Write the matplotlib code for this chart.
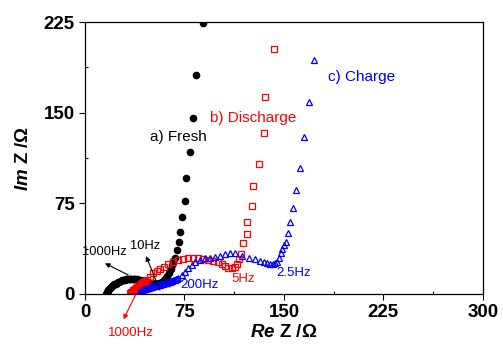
import numpy as np
import matplotlib
matplotlib.use("Agg")
import matplotlib.pyplot as plt
from matplotlib.ticker import MultipleLocator

# ──────────────────────────────────────────────
# DATA  (Re Z, Im Z)
# ──────────────────────────────────────────────
fresh_re = [16, 16.5, 17, 17.5, 18, 18.7, 19.5, 20.2, 21, 22, 23, 24, 25, 26,
            27, 28, 29, 30, 31, 32, 33, 34, 35, 36, 37, 38, 39, 40, 41, 42,
            43, 44, 45, 46, 47, 48, 49, 50, 51, 52, 53, 54, 55, 56, 57, 58,
            59, 60, 61, 62, 63, 64.5, 65.5, 66.6, 67.8, 69.1, 70.8, 71.6,
            72.9, 75.4, 76.1, 79.1, 81.2, 83.6, 88.9]
fresh_im = [0, 1.3, 2.5, 3.4, 4.2, 5, 5.8, 6.5, 7.2, 7.9, 8.6, 9.2, 9.8, 10.3,
            10.8, 11.2, 11.5, 11.8, 12, 12.2, 12.3, 12.4, 12.4, 12.4, 12.3,
            12.2, 12, 11.8, 11.5, 11.3, 11, 10.7, 10.4, 10.1, 9.8, 9.5, 9.2,
            8.9, 8.7, 8.5, 8.4, 8.4, 8.5, 8.9, 9.5, 10.2, 11, 12.2, 13.5, 15.2,
            17, 20.5, 24, 27, 29.5, 36.4, 43.3, 51.5, 63.4, 77.2, 95.7, 117.7,
            145.8, 181.1, 224]

discharge_re = [34, 34.5, 35, 35.5, 36, 36.5, 37, 37.5, 38, 38.5, 39, 39.5,
                40, 40.5, 41, 41.5, 42, 42.5, 43, 43.5, 44, 44.5, 45, 46.5,
                49, 51.5, 54, 56.5, 59.8, 62.8, 66.6, 70.3, 74.1, 77.9, 81.6,
                85.4, 89, 92.5, 96.5, 100, 103, 105.5, 108, 110.5, 113,
                114.8, 116.3, 117.3, 119.3, 121.8, 122.3, 125.6, 126.8,
                131.1, 134.9, 135.6, 142.4]
discharge_im = [0.5, 1, 1.5, 2, 2.5, 3, 3.5, 3.9, 4.3, 4.8, 5.2, 5.6, 6, 6.5,
                6.9, 7.3, 7.8, 8.2, 8.7, 9.1, 9.6, 10, 10.5, 11.6, 14.3,
                17.1, 19, 20.7, 22.6, 24.8, 26.7, 28.1, 29, 29.5, 30, 29.5,
                29, 28.3, 27.6, 26.5, 24.8, 23, 21.5, 21.2, 22.3, 25, 29,
                33.5, 41.9, 49.6, 59.8, 72.8, 89.3, 107.5, 133.4, 163.2, 202.6]

charge_re = [40, 40.5, 41, 41.5, 42, 42.5, 43, 43.7, 44.5, 45.2, 46, 46.7,
             47.5, 48.2, 49, 49.7, 50.5, 51.2, 52, 52.7, 53.5, 54.2, 55, 55.7,
             56.5, 57.2, 58, 58.7, 59.5, 60.2, 61, 61.7, 62.5, 63.2, 64, 64.7,
             65.5, 66.2, 67, 67.7, 68.5, 69.2, 70, 72.9, 75.4, 77.9, 80.4,
             82.9, 86.7, 90.4, 94.2, 98, 101.7, 105.5, 109.3, 113, 118.1,
             123.8, 128.1, 131.9, 134.9, 137.4, 139.4, 141.4, 143.2, 144.9,
             146.4, 147.7, 148.7, 150.2, 151.5, 152.7, 154.5, 157, 159, 162,
             165, 168.8, 173]
charge_im = [0.5, 1, 1.5, 1.9, 2.3, 2.7, 3, 3.4, 3.8, 4.2, 4.5, 4.8, 5, 5.3,
             5.5, 5.8, 6, 6.3, 6.5, 6.8, 7, 7.2, 7.4, 7.6, 7.8, 8, 8.3, 8.5,
             8.8, 9, 9.3, 9.5, 9.8, 10, 10.3, 10.6, 10.9, 11.2, 11.5, 11.8,
             12.2, 12.6, 13, 15.7, 18.4, 21.2, 24, 26.2, 28.1, 29.5, 30, 30.9,
             31.7, 32.8, 33.6, 33.6, 31.4, 29.5, 28.7, 27.6, 26.5, 25.4, 24.8,
             24.8, 25.4, 26.7, 29.5, 33.6, 37, 40.5, 43.3, 50.2, 59.8, 70.9,
             86, 104, 130, 159, 194]

X_TICKS = [0, 75, 150, 225, 300]
Y_TICKS = [0, 75, 150, 225]

# ──────────────────────────────────────────────
# STYLE
# ──────────────────────────────────────────────
plt.rcParams["font.family"] = ["Liberation Sans", "DejaVu Sans"]
plt.rcParams["mathtext.fontset"] = "custom"
plt.rcParams["mathtext.rm"] = "Liberation Sans:bold"
plt.rcParams["mathtext.it"] = "Liberation Sans:italic:bold"

BLACK = "black"
RED = "#ff0000"
BLUE = "#0000ff"

fig = plt.figure(figsize=(5.03, 3.5), dpi=100)
ax = fig.add_axes([0.169, 0.160, 0.791, 0.777])

ax.plot(fresh_re, fresh_im, "o", color=BLACK, ms=4.5, mec=BLACK, ls="none")
ax.plot(discharge_re, discharge_im, "s", mfc="none", mec=RED, ms=4.3,
        mew=0.9, ls="none")
ax.plot(charge_re, charge_im, "^", mfc="none", mec=BLUE, ms=5.0,
        mew=0.9, ls="none")

ax.set_xlim(0, 300)
ax.set_ylim(0, 225)
ax.set_xticks(X_TICKS)
ax.set_yticks(Y_TICKS)
ax.xaxis.set_minor_locator(MultipleLocator(37.5))
ax.yaxis.set_minor_locator(MultipleLocator(37.5))
ax.tick_params(which="major", direction="out", length=4, width=0.8,
               labelsize=13.5)
ax.tick_params(which="minor", direction="in", length=2.5, width=0.8)
for lab in ax.get_xticklabels() + ax.get_yticklabels():
    lab.set_fontweight("bold")
for sp in ax.spines.values():
    sp.set_linewidth(0.9)

ax.set_xlabel(r"$\mathit{Re}$ Z /Ω", fontsize=13.5, fontweight="bold",
              labelpad=2)
ax.set_ylabel(r"$\mathit{Im}$ Z /Ω", fontsize=13.5, fontweight="bold",
              labelpad=8)

# — series labels —
ax.text(49, 130, "a) Fresh", color=BLACK, fontsize=11, va="center")
ax.text(94, 145.6, "b) Discharge", color=RED, fontsize=11, va="center")
ax.text(183, 179.5, "c) Charge", color=BLUE, fontsize=11, va="center")

# — frequency markers —
ax.text(-2.5, 35, "1000Hz", color=BLACK, fontsize=9.3, va="center")
ax.text(34, 39.7, "10Hz", color=BLACK, fontsize=9.3, va="center")
ax.text(71.6, 7.4, "200Hz", color=BLUE, fontsize=9.5, va="center")
ax.text(110.5, 12.4, "5Hz", color=RED, fontsize=9.5, va="center")
ax.text(144.5, 17.4, "2.5Hz", color=BLUE, fontsize=9.5, va="center")
ax.text(17.6, -32, "1000Hz", color=RED, fontsize=9.5, va="center")

arrow = dict(arrowstyle="-|>", lw=0.8, mutation_scale=7,
             shrinkA=0, shrinkB=0)
ax.annotate("", xy=(15, 25.4), xytext=(32.6, 15.7),
            arrowprops=dict(arrow, color=BLACK))
ax.annotate("", xy=(46, 31.4), xytext=(56.5, 3.3),
            arrowprops=dict(arrow, color=BLACK))
ax.annotate("", xy=(29, -21), xytext=(44, 12), annotation_clip=False,
            arrowprops=dict(arrow, color=RED))

plt.savefig("out.png", dpi=100)
